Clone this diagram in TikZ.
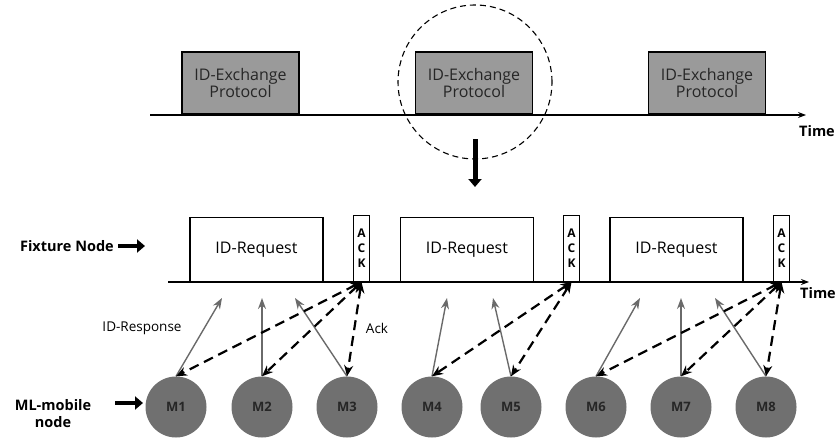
\documentclass[tikz,border=0pt]{standalone}
\usepackage{fontspec}
\setmainfont{Open Sans}
\usetikzlibrary{arrows.meta}
\definecolor{protogray}{HTML}{9A9A9A}
\definecolor{mgray}{HTML}{707070}
\definecolor{respgray}{HTML}{6A6A6A}
\begin{document}
\begin{tikzpicture}[x=1pt,y=-1pt,
  protobox/.style={draw=black,line width=1.6pt,fill=protogray,minimum width=117pt,minimum height=62pt,inner sep=0pt,align=center,font=\fontsize{16}{17}\selectfont,text=black!85},
  reqbox/.style={draw=black,line width=1.2pt,fill=white,minimum width=133pt,minimum height=64pt,inner sep=0pt,font=\fontsize{16}{18}\selectfont},
  ackbox/.style={draw=black,line width=1.2pt,fill=white,minimum width=16pt,minimum height=66pt,inner sep=0pt,align=center,font=\bfseries\fontsize{12}{15}\selectfont},
  mnode/.style={circle,fill=mgray,minimum size=61pt,inner sep=0pt,font=\bfseries\fontsize{13}{14}\selectfont,text=black!85},
  lbl/.style={font=\bfseries\fontsize{14.5}{17}\selectfont,inner sep=0pt,align=center},
  small/.style={font=\fontsize{13.5}{15}\selectfont,inner sep=0pt},
  timeline/.style={line width=1.2pt,-{Stealth[length=8pt,width=6pt]}},
  resp/.style={draw=respgray,line width=1.4pt,-{Stealth[length=11pt,width=8pt]}},
  ack/.style={draw=black,line width=2.2pt,dash pattern=on 10pt off 6pt,{Stealth[length=11pt,width=9pt]}-{Stealth[length=11pt,width=9pt]}},
  fat/.style={line width=5pt,-{Triangle[length=8pt,width=13pt]}}
]
\useasboundingbox (0,0) rectangle (837,441);
% top timeline
\coordinate (t1s) at (150,115);
\coordinate (t1e) at (806,115);
\node[protobox,anchor=south] (p1) at (240.5,115) {ID-Exchange\\Protocol};
\node[protobox,anchor=south] (p2) at (474,115) {ID-Exchange\\Protocol};
\node[protobox,anchor=south] (p3) at (707,115) {ID-Exchange\\Protocol};
\draw[timeline] (t1s) -- (t1e);
\node[lbl,anchor=north east] (time1) at (835,125) {Time};
\node[circle,draw=black,line width=1.1pt,minimum size=154pt,inner sep=0pt,dash pattern=on 6pt off 4pt] (zoomc) at (475,82) {};
\coordinate (fs) at (475,139);
\coordinate (fe) at (475,187);
\draw[fat] (fs) -- (fe);
% lower timeline
\coordinate (t2s) at (168,282);
\coordinate (t2e) at (809,282);
\node[reqbox,anchor=south] (r1) at (256.5,282) {ID-Request};
\node[reqbox,anchor=south] (r2) at (467,282) {ID-Request};
\node[reqbox,anchor=south] (r3) at (676.5,282) {ID-Request};
\node[ackbox,anchor=south] (a1) at (361.5,282) {A\\C\\K};
\node[ackbox,anchor=south] (a2) at (571.5,282) {A\\C\\K};
\node[ackbox,anchor=south] (a3) at (781.5,282) {A\\C\\K};
\draw[timeline] (t2s) -- (t2e);
\node[lbl,anchor=north east] (time2) at (836,287) {Time};
% labels
\node[lbl,anchor=east] (fix) at (114,246) {Fixture Node};
\coordinate (fa1) at (118,246);
\coordinate (fa2) at (145,246);
\draw[fat,line width=4pt] (fa1) -- (fa2);
\node[lbl] (ml) at (53,414) {ML-mobile\\node};
\coordinate (ma1) at (115,403);
\coordinate (ma2) at (143,403);
\draw[fat,line width=4pt] (ma1) -- (ma2);
% mobile nodes
\foreach \i/\x in {1/176,2/262,3/347,4/432,5/511,6/596,7/681,8/766}{
  \node[mnode] (m\i) at (\x,407) {M\i};
}
% response tips
\coordinate (q1) at (222,298);
\coordinate (q2) at (262,298);
\coordinate (q3) at (295,298);
\coordinate (q4) at (447,298);
\coordinate (q5) at (493,298);
\coordinate (q6) at (640,298);
\coordinate (q7) at (681,298);
\coordinate (q8) at (715,298);
\foreach \i in {1,...,8}{
  \draw[resp] (m\i.north) -- (q\i);
}
% ack dashed
\foreach \i in {1,2,3}{ \draw[ack] (a1.south) -- (m\i.north); }
\foreach \i in {4,5}{ \draw[ack] (a2.south) -- (m\i.north); }
\foreach \i in {6,7,8}{ \draw[ack] (a3.south) -- (m\i.north); }
\node[small] (idr) at (142,328) {ID-Response};
\node[small] (ackl) at (377,328) {Ack};
\end{tikzpicture}
\end{document}
